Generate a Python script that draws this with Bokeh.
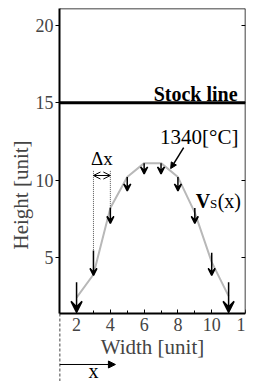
from bokeh.plotting import figure
from bokeh.models import (ColumnDataSource, Arrow, VeeHead, NormalHead, OpenHead,
                          LinearAxis, Range1d, FixedTicker, Span)
from bokeh.core.properties import value
from bokeh.embed import file_html
from bokeh.resources import INLINE

FONT = "Liberation Serif, Times New Roman, DejaVu Serif, serif"

# ---- data ----
x_pos = [2, 3, 4, 5, 6, 7, 8, 9, 10, 11]
profile = [2.4, 3.9, 8.2, 10.2, 11.1, 11.1, 10.2, 7.9, 4.7, 2.5]
vs_top = [3.4, 5.45, 8.2, 10.2, 11.1, 11.1, 10.2, 8.2, 5.3, 3.4]
vs_tip = [1.45, 3.84, 7.2, 9.3, 10.4, 10.4, 9.3, 7.2, 3.84, 1.45]
stock_level = 15
x_ticks = [2, 4, 6, 8, 10, 12]
y_ticks = [5, 10, 15, 20]
x_lim = (1, 12)
y_lim = (1.38, 21.10)
y_below = -3.02  # room under the axis for the origin marker

p = figure(frame_width=186, frame_height=373, x_range=Range1d(0.99, x_lim[1]),
           y_range=Range1d(y_below, y_lim[1]),
           output_backend="svg", toolbar_location=None,
           min_border_left=59, min_border_right=10, min_border_top=8, min_border_bottom=0)
p.grid.grid_line_color = None
p.outline_line_color = None
p.background_fill_color = "white"
p.border_fill_color = "white"

xa = p.xaxis[0]
xa.fixed_location = y_lim[0]
xa.bounds = x_lim
xa.ticker = FixedTicker(ticks=x_ticks, minor_ticks=list(range(1, 13)))
xa.major_tick_in = 4
xa.major_tick_out = 0
xa.minor_tick_in = 3
xa.minor_tick_out = 0
xa.axis_line_width = 2
xa.major_label_text_font = FONT
xa.major_label_text_font_size = "18px"
xa.major_label_standoff = 5
xa.axis_label = "Width [unit]"
xa.axis_label_text_font = FONT
xa.axis_label_text_font_size = "21px"
xa.axis_label_text_font_style = "normal"
xa.axis_label_standoff = 0

ya = p.yaxis[0]
ya.bounds = y_lim
ya.ticker = FixedTicker(ticks=y_ticks)
ya.major_tick_in = 0
ya.major_tick_out = 4
ya.minor_tick_line_color = None
ya.axis_line_width = 2
ya.major_label_text_font = FONT
ya.major_label_text_font_size = "18px"
ya.major_label_standoff = 2
ya.axis_label = "Height [unit]"
ya.axis_label_text_font = FONT
ya.axis_label_text_font_size = "21px"
ya.axis_label_text_font_style = "normal"
ya.axis_label_standoff = 0

ra = LinearAxis(ticker=FixedTicker(ticks=y_ticks), fixed_location=x_lim[1], bounds=y_lim,
                major_label_text_color=None, major_label_text_font_size="1px",
                major_tick_in=4, major_tick_out=0, minor_tick_line_color=None,
                axis_line_width=1.5, major_label_standoff=0)
p.add_layout(ra, "right")
ta = LinearAxis(fixed_location=y_lim[1], bounds=x_lim, ticker=FixedTicker(ticks=[]),
                major_label_text_color=None, major_label_text_font_size="1px",
                major_tick_line_color=None, minor_tick_line_color=None, axis_line_width=1.5)
p.add_layout(ta, "above")

p.add_layout(Span(location=stock_level, dimension="width", line_color="black", line_width=3))
p.text(x=[11.53], y=[15.55], text=["Stock line"], text_font=value(FONT),
       text_font_size="20px", text_font_style="bold", text_align="right",
       text_baseline="alphabetic", text_color="black")

p.line(x_pos, profile, line_color="#b8b8b8", line_width=2)

mid = ColumnDataSource(dict(x=x_pos[1:-1], y0=vs_top[1:-1], y1=vs_tip[1:-1]))
ends = ColumnDataSource(dict(x=[x_pos[0], x_pos[-1]], y0=[vs_top[0], vs_top[-1]],
                             y1=[vs_tip[0], vs_tip[-1]]))
p.add_layout(Arrow(end=VeeHead(size=7, line_color="black", line_width=1.5, fill_color="black"),
                   x_start="x", y_start="y0", x_end="x", y_end="y1", source=mid,
                   line_color="black", line_width=1.5))
p.add_layout(Arrow(end=VeeHead(size=11, line_color="black", line_width=1.5, fill_color="black"),
                   x_start="x", y_start="y0", x_end="x", y_end="y1", source=ends,
                   line_color="black", line_width=1.5))

dx_top = 10.6
p.segment(x0=[x_pos[1], x_pos[2]], y0=[dx_top, dx_top], x1=[x_pos[1], x_pos[2]],
          y1=[vs_top[1], vs_top[2]], line_color="#555555", line_width=1, line_dash="1 1")
p.add_layout(Arrow(start=OpenHead(size=7, line_width=1), end=OpenHead(size=7, line_width=1),
                   x_start=x_pos[1], y_start=10.3, x_end=x_pos[2], y_end=10.3,
                   line_width=1, line_color="black"))
p.text(x=[3.5], y=[10.75], text=["Δx"], text_font=value(FONT), text_font_size="19px",
       text_align="center", text_baseline="bottom", text_color="black")

p.text(x=[11.58], y=[12.8], text=["1340[°C]"], text_font=value(FONT), text_font_size="21px",
       text_align="right", text_baseline="middle", text_color="black")
p.add_layout(Arrow(end=NormalHead(size=6, fill_color="black", line_color="black"),
                   x_start=8.34, y_start=12.1, x_end=7.57, y_end=10.75,
                   line_width=1.5, line_color="black"))

p.text(x=[9.05], y=[8.68], text=["V"], text_font=value(FONT), text_font_size="20px",
       text_font_style="bold", text_align="left", text_baseline="alphabetic")
p.text(x=[9.9], y=[8.5], text=["S"], text_font=value(FONT), text_font_size="13px",
       text_align="left", text_baseline="alphabetic")
p.text(x=[10.35], y=[8.68], text=["(x)"], text_font=value(FONT), text_font_size="20px",
       text_align="left", text_baseline="alphabetic")

p.segment(x0=[x_lim[0]], y0=[y_lim[0]], x1=[x_lim[0]], y1=[y_below],
          line_color="black", line_width=1.2, line_dash="3 2")
p.add_layout(Arrow(end=NormalHead(size=7, fill_color="black", line_color="black"),
                   x_start=x_lim[0], y_start=-1.92, x_end=4.3, y_end=-1.92,
                   line_color="black", line_width=1))
p.text(x=[3.0], y=[y_below], text=["x"], text_font=value(FONT), text_font_size="20px",
       text_align="center", text_baseline="bottom")

open("out.html", "w").write(file_html(p, INLINE))
